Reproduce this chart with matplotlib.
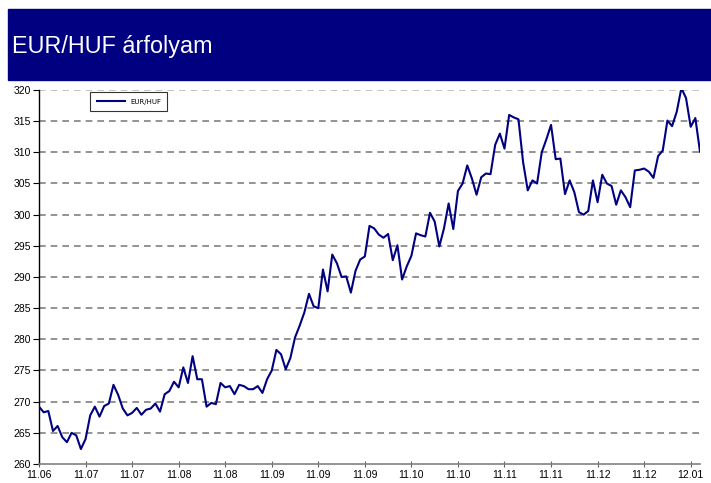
import matplotlib
matplotlib.use("Agg")
import matplotlib.pyplot as plt
from matplotlib.patches import Rectangle

# EUR/HUF daily rate
eurhuf = [
    269.2, 268.3, 268.5, 265.3, 266.1, 264.3, 263.5, 265.0, 264.6, 262.4,
    264.0, 267.8, 269.2, 267.6, 269.3, 269.7, 272.7, 271.1, 268.9, 267.8,
    268.2, 269.0, 267.9, 268.7, 268.9, 269.7, 268.4, 271.2, 271.7, 273.2,
    272.3, 275.5, 273.0, 277.3, 273.6, 273.6, 269.2, 269.8, 269.6, 273.0,
    272.3, 272.5, 271.2, 272.7, 272.5, 272.0, 272.0, 272.5, 271.4, 273.6,
    275.0, 278.3, 277.6, 275.2, 277.0, 280.3, 282.2, 284.3, 287.3, 285.3,
    285.0, 291.2, 287.7, 293.6, 292.2, 290.0, 290.1, 287.5, 291.0, 292.8,
    293.3, 298.2, 297.8, 296.8, 296.3, 296.9, 292.7, 295.1, 289.6, 291.7,
    293.4, 297.0, 296.7, 296.5, 300.3, 298.9, 294.9, 297.8, 301.8, 297.7,
    303.8, 305.0, 307.9, 305.8, 303.2, 306.0, 306.6, 306.5, 311.2, 313.0,
    310.6, 316.0, 315.6, 315.3, 308.4, 303.9, 305.5, 305.0, 310.0, 312.1,
    314.4, 308.9, 309.0, 303.3, 305.5, 303.6, 300.4, 300.0, 300.6, 305.5,
    302.0, 306.4, 305.0, 304.6, 301.6, 303.9, 302.8, 301.2, 307.1, 307.2,
    307.4, 306.9, 305.9, 309.4, 310.3, 315.1, 314.2, 316.5, 320.3, 318.7,
    314.1, 315.5, 310.1,
]
tick_labels = ["11.06", "11.07", "11.07", "11.08", "11.08", "11.09", "11.09",
               "11.09", "11.10", "11.10", "11.11", "11.11", "11.12", "11.12",
               "12.01"]
y_ticks = list(range(260, 321, 5))

NAVY = "#000080"

fig = plt.figure(figsize=(7.11, 4.83), dpi=100)
fig.patch.set_facecolor("white")

# title banner
fig.patches.append(Rectangle((8 / 711, 1 - 80 / 483), 1, 71 / 483,
                             transform=fig.transFigure, color=NAVY, zorder=0))
fig.text(12 / 711, 1 - 46 / 483, "EUR/HUF árfolyam", color="white",
         fontsize=16.8, family="Liberation Sans", va="center", ha="left")

ax = fig.add_axes([39 / 711, 1 - 464 / 483, 661 / 711, 374 / 483])
x = list(range(len(eurhuf)))
ax.plot(x, eurhuf, color=NAVY, linewidth=1.5, label="EUR/HUF", zorder=3)

ax.set_xlim(0, len(eurhuf) - 1)
ax.set_ylim(260, 320)
ax.set_yticks(y_ticks)
ax.set_yticklabels([str(v) for v in y_ticks], fontsize=7.5, family="Liberation Sans")
ax.set_xticks(range(0, 10 * len(tick_labels), 10))
ax.set_xticklabels(tick_labels, fontsize=7.5, family="Liberation Sans")

for v in y_ticks[1:]:
    ax.axhline(v, color="#808080", linestyle=(0, (4, 3)), linewidth=1.2,
               zorder=1, alpha=0.55 if v == 320 else 1)

for s in ["top", "right"]:
    ax.spines[s].set_visible(False)
ax.spines["left"].set_color("black")
ax.spines["left"].set_linewidth(1.0)
ax.spines["bottom"].set_color("#808080")
ax.spines["bottom"].set_linewidth(1.2)
ax.tick_params(axis="y", length=4, width=0.8, pad=2)
ax.tick_params(axis="x", length=4, width=0.8, direction="inout", pad=2,
               color="#606060")

leg = ax.legend(loc="upper left", bbox_to_anchor=(48 / 661, 1.003), fontsize=5,
                frameon=True, fancybox=False, edgecolor="black",
                handlelength=4, borderpad=0.9)
leg.get_frame().set_linewidth(0.8)

fig.savefig("out.png", dpi=100, facecolor="white")
